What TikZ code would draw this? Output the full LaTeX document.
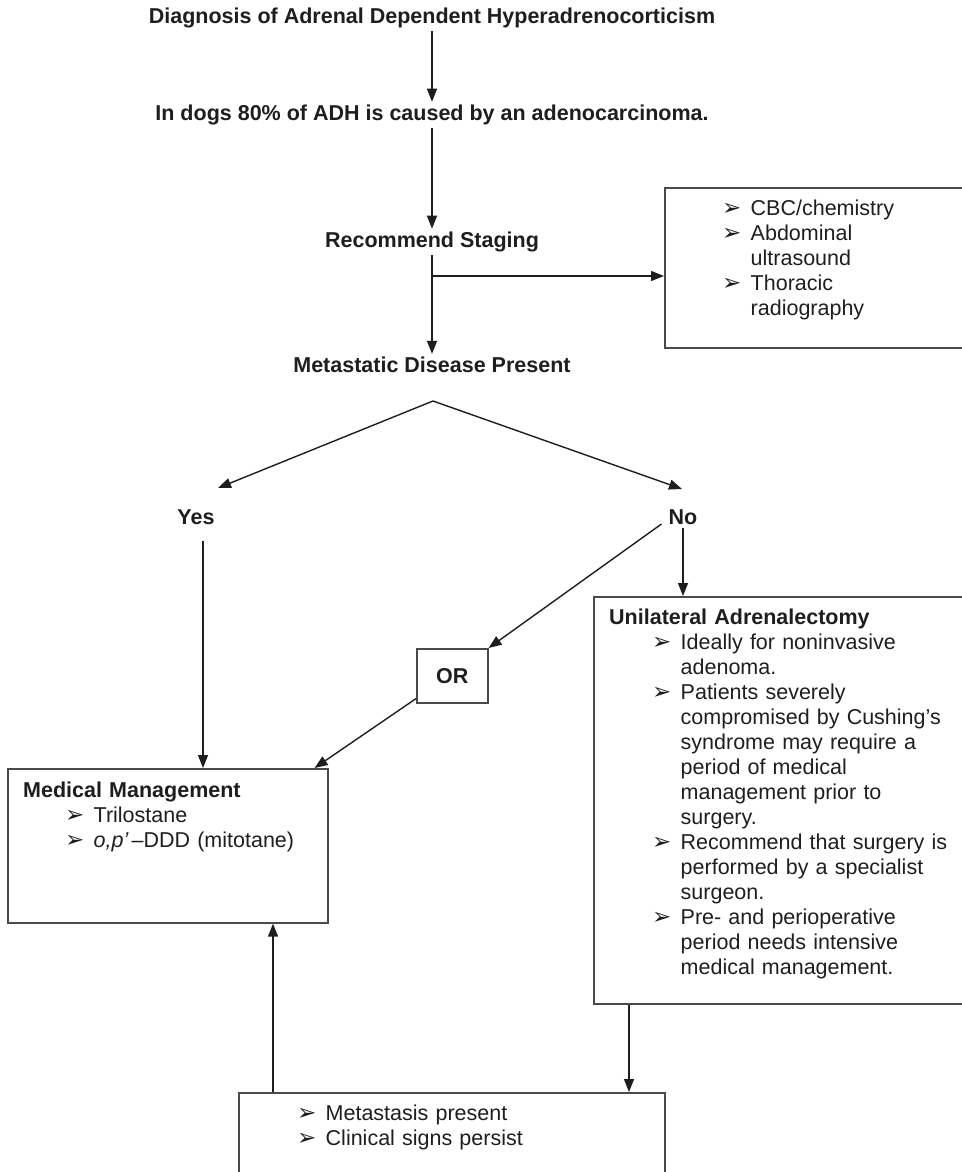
\documentclass[tikz,border=0pt]{standalone}
\usepackage{fontspec}
\setmainfont{Liberation Sans}
\newfontfamily\bulfont{DejaVu Sans}
\usetikzlibrary{arrows.meta}
\definecolor{ink}{HTML}{1E1E1E}
\definecolor{boxc}{HTML}{4A4A4A}
\newcommand\bu{\makebox[28.5pt][l]{\raisebox{0.5pt}{\bulfont\fontsize{23}{23}\selectfont ➢}}}
\newcommand\ind{\hspace*{28.5pt}}
\begin{document}
\begin{tikzpicture}[x=1pt,y=-1pt,
  txt/.style={font=\fontsize{21.5}{25}\selectfont, text=ink, inner sep=0pt, anchor=north west, align=left},
  hd/.style={font=\bfseries\fontsize{21.5}{25}\selectfont, text=ink, inner sep=3pt},
  arr/.style={draw=ink, line width=1.4pt, -{Triangle[length=13pt,width=10pt]}},
  bx/.style={draw=boxc, line width=1.6pt, inner sep=0pt, anchor=north west}]
\useasboundingbox (0,0) rectangle (961,1172);

% text labels
\node[hd] (t1) at (432,18) {Diagnosis of Adrenal Dependent Hyperadrenocorticism};
\node[hd] (t2) at (432,115) {In dogs 80\% of ADH is caused by an adenocarcinoma.};
\node[hd] (rs) at (432,242) {Recommend Staging};
\node[hd] (mt) at (432,365) {Metastatic Disease Present};
\node[hd] (yes) at (196,517) {Yes};
\node[hd] (no) at (683,517) {No};

% boxes
\node[bx, minimum width=330pt, minimum height=160pt] (b1) at (664,187) {};
\node[txt, text width=230pt] (b1t) at (722,198) {\strut\bu CBC/chemistry\\
\bu Abdominal\\
\ind ultrasound\\
\bu Thoracic\\
\ind radiography};

\node[bx, minimum width=71pt, minimum height=54pt] (or) at (416,648) {};
\node[hd] (ortxt) at (or.center) {OR};

\node[bx, minimum width=320pt, minimum height=154pt] (med) at (7,768) {};
\node[txt, text width=300pt] (medt) at (23,780) {\strut\textbf{Medical Management}\\
\hspace*{42pt}\bu Trilostane\\
\hspace*{42pt}\bu\textit{o,p’}\hspace{3pt}–DDD (mitotane)};

\node[bx, minimum width=390pt, minimum height=407pt] (ua) at (593,596) {};
\node[txt, text width=350pt] (uat) at (609,607) {\strut\textbf{Unilateral Adrenalectomy}\\
\hspace*{43pt}\bu Ideally for noninvasive\\
\hspace*{43pt}\ind adenoma.\\
\hspace*{43pt}\bu Patients severely\\
\hspace*{43pt}\ind compromised by Cushing’s\\
\hspace*{43pt}\ind syndrome may require a\\
\hspace*{43pt}\ind period of medical\\
\hspace*{43pt}\ind management prior to\\
\hspace*{43pt}\ind surgery.\\
\hspace*{43pt}\bu Recommend that surgery is\\
\hspace*{43pt}\ind performed by a specialist\\
\hspace*{43pt}\ind surgeon.\\
\hspace*{43pt}\bu Pre- and perioperative\\
\hspace*{43pt}\ind period needs intensive\\
\hspace*{43pt}\ind medical management.};

\node[bx, minimum width=426pt, minimum height=120pt] (bt) at (238,1092) {};
\node[txt, text width=360pt] (btt) at (297,1103) {\strut\bu Metastasis present\\
\bu Clinical signs persist};

% connectors
\draw[arr] (t1.south) -- (t2.north);
\draw[arr] (t2.south) -- (rs.north);
\draw[arr] (rs.south) -- (mt.north);
\coordinate (br) at (432,276);
\draw[arr] (br) -- (br -| b1.west);
\coordinate (pk) at (433,401);
\coordinate (tipL) at (218,488);
\coordinate (tipR) at (682,489);
\draw[draw=ink, line width=1.4pt, {Triangle[length=13pt,width=10pt]}-{Triangle[length=13pt,width=10pt]}] (tipL) -- (pk) -- (tipR);
\draw[arr, shorten <=13pt] ([xshift=7pt]yes.south) -- ([xshift=7pt]yes.south |- med.north);
\draw[arr] (no.south) -- (no.south |- ua.north);
\draw[arr] ([shift={(-4pt,-7pt)}]no.west) -- (or.north east);
\draw[arr] ([yshift=5pt]or.south west) -- ([xshift=-14pt]med.north east);
\draw[arr] ([xshift=36pt]ua.south west) -- ([xshift=36pt]ua.south west |- bt.north);
\draw[arr] ([xshift=35pt]bt.north west) -- ([xshift=35pt]bt.north west |- med.south);
\end{tikzpicture}
\end{document}
